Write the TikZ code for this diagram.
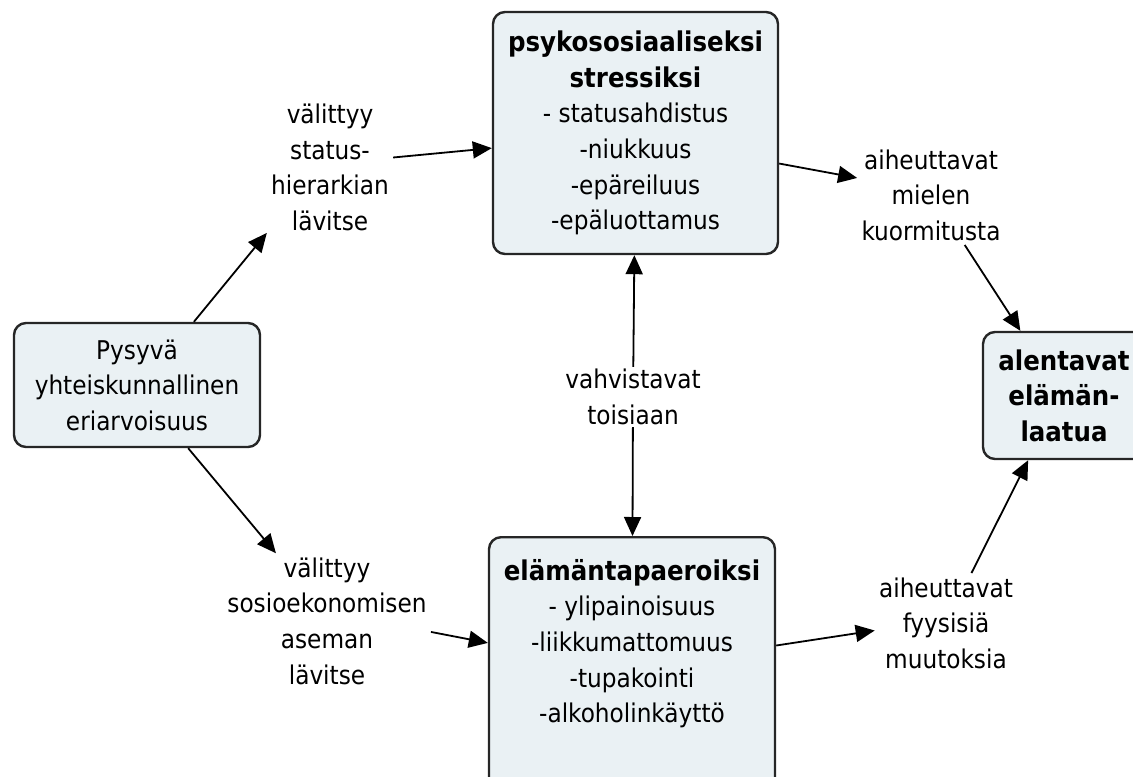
\documentclass[tikz,border=0pt]{standalone}
\usepackage{fontspec}
\setmainfont{DejaVu Sans Condensed}
\usetikzlibrary{arrows.meta}

\definecolor{boxfill}{RGB}{234,241,244}
\newcommand{\otsikko}{\fontsize{13.6}{17.8}\selectfont\bfseries}

\begin{document}
\begin{tikzpicture}[x=0.5pt,y=-0.5pt,font=\fontsize{12.9}{17.8}\selectfont]
  \tikzstyle{laatikko} = [draw=black!85, fill=boxfill, line width=1.2pt, rounded corners=6pt, align=center, inner sep=0pt]
  \tikzstyle{selite} = [align=center, inner sep=2pt]
  \tikzstyle{nuoli} = [-{Triangle[length=9.5pt,width=8.5pt]}, line width=0.9pt]

  \clip (0,0) rectangle (1133,776);

  % 方框
  \node[laatikko, minimum width=142.5pt, minimum height=121pt] (psyko) at (635.5,133)
    {{\otsikko psykososiaaliseksi}\\{\otsikko stressiksi}\\- statusahdistus\\-niukkuus\\-epäreiluus\\-epäluottamus};
  \node[laatikko, anchor=north, minimum width=143pt, inner ysep=11pt, text depth=30pt] (elama) at (632,536)
    {{\otsikko elämäntapaeroiksi}\\- ylipainoisuus\\-liikkumattomuus\\-tupakointi\\-alkoholinkäyttö};
  \node[laatikko, minimum width=123pt, minimum height=62pt] (pysyva) at (137,385)
    {Pysyvä\\yhteiskunnallinen\\eriarvoisuus};
  \node[laatikko, minimum width=81pt, minimum height=63.5pt] (alentavat) at (1064,395.5)
    {{\otsikko alentavat}\\{\otsikko elämän-}\\{\otsikko laatua}};

  % selitteet
  \node[selite] (statuslbl) at (330,167.5) {välittyy\\status-\\hierarkian\\lävitse};
  \node[selite] (sosiolbl) at (327,621) {välittyy\\sosioekonomisen\\aseman\\lävitse};
  \node[selite] (mielilbl) at (931,195) {aiheuttavat\\mielen\\kuormitusta};
  \node[selite] (fyysilbl) at (946,623) {aiheuttavat\\fyysisiä\\muutoksia};
  \node[selite, inner sep=1pt] (vahvlbl) at (633,397) {vahvistavat\\toisiaan};

  % 箭头
  \draw[nuoli] (pysyva.48.9) -- (statuslbl.226.6);
  \draw[nuoli] (statuslbl.9.5) -- (psyko.186);
  \draw[nuoli] (psyko.348.5) -- (mielilbl.167.5);
  \draw[nuoli] (mielilbl.304) -- (alentavat.124);
  \draw[nuoli] (pysyva.309) -- (sosiolbl.127.6);
  \draw[nuoli] (sosiolbl.354) -- (elama.169);
  \draw[nuoli] (elama.10.3) -- (fyysilbl.186);
  \draw[nuoli] (fyysilbl.63.9) -- (alentavat.241.8);
  \draw[nuoli] (vahvlbl) -- (psyko);
  \draw[nuoli] (vahvlbl) -- (elama);
\end{tikzpicture}
\end{document}
